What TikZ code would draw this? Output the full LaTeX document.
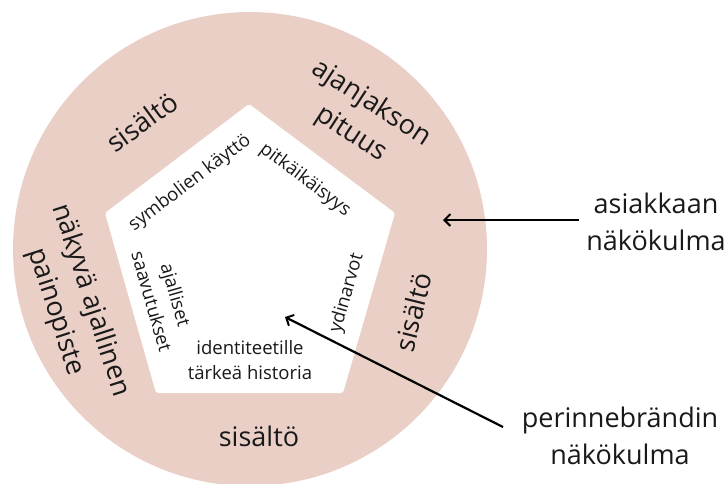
\documentclass[tikz,border=0pt]{standalone}
\usepackage{fontspec}
\setmainfont{Open Sans}
\usetikzlibrary{arrows.meta}
\definecolor{ring}{RGB}{234,207,199}
\definecolor{ink}{RGB}{25,25,25}
\tikzset{
  outer/.style={font=\fontsize{27}{37}\selectfont, text=ink, align=center, inner sep=0pt},
  inner/.style={font=\fontsize{18.5}{25}\selectfont, text=ink, align=center, inner sep=0pt},
  side/.style={font=\fontsize{27}{37}\selectfont, text=ink, align=center, inner sep=0pt},
  arr/.style={draw=black, line width=2.2pt, -{Straight Barb[length=6pt,width=12pt,line width=2pt]}}
}
\begin{document}
\begin{tikzpicture}[x=1pt,y=-1pt]
\useasboundingbox (0,0) rectangle (728,483);
\fill[ring] (250,249) circle (237);
\fill[white, rounded corners=2pt] (249,104) -- (395,213) -- (343,393) -- (156,393) -- (105,213) -- cycle;

% outer ring texts
\node[outer, rotate=36] (s1) at (142,122) {sisältö};
\node[outer, rotate=-33] (aj) at (361,119) {ajanjakson\\pituus};
\node[outer, rotate=-72] (nak) at (73,306) {näkyvä ajallinen\\painopiste};
\node[outer, rotate=76] (s2) at (413,312) {sisältö};
\node[outer] (s3) at (259,436) {sisältö};

% inner texts
\node[inner, rotate=37] (sym) at (190,183) {symbolien käyttö};
\node[inner, rotate=-37] (pit) at (305,180) {pitkäikäisyys};
\node[inner, rotate=74] (yd) at (347,293) {ydinarvot};
\node[inner, rotate=-74] (aja) at (164,298) {ajalliset\\saavutukset};
\node[inner] (ide) at (250,360) {identiteetille\\tärkeä historia};

% side labels
\node[side] (asi) at (656,222) {asiakkaan\\näkökulma};
\node[side] (per) at (620,436) {perinnebrändin\\näkökulma};

\coordinate (a1s) at (579,220);
\coordinate (a1e) at (443,220);
\coordinate (a2s) at (503,427);
\coordinate (a2e) at (285,317);
\draw[arr] (a1s) -- (a1e);
\draw[arr] (a2s) -- (a2e);
\end{tikzpicture}
\end{document}
